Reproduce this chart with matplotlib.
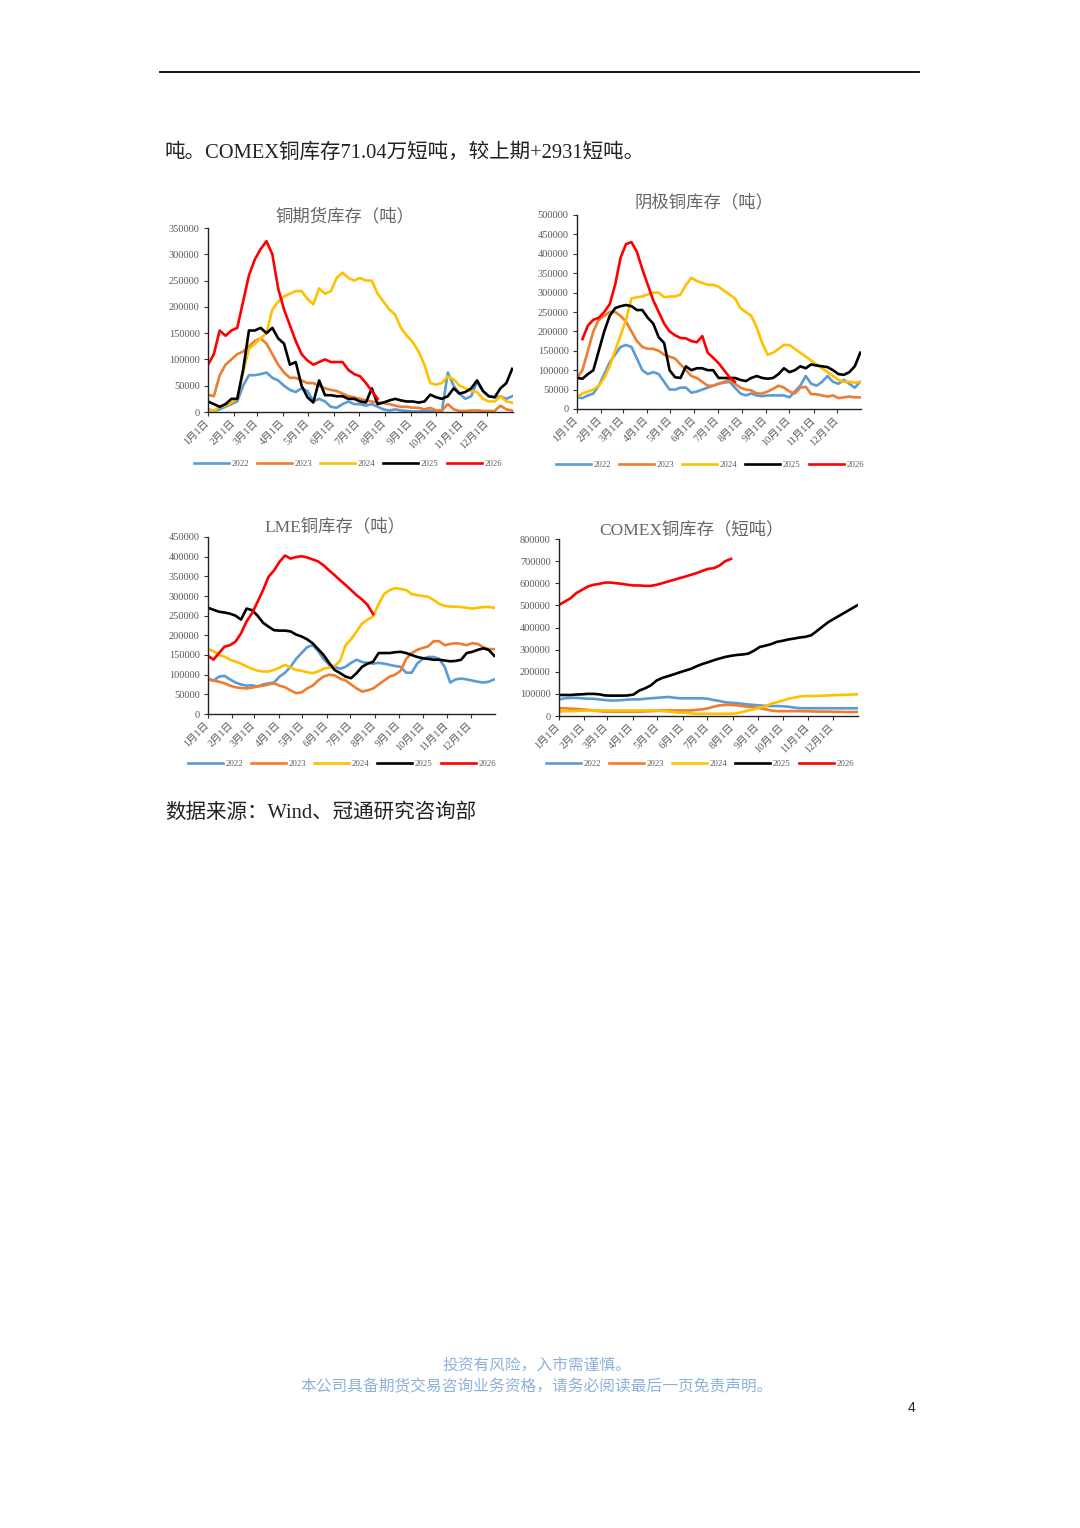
import numpy as np
import matplotlib
matplotlib.use('Agg')
import matplotlib.pyplot as plt
from matplotlib.lines import Line2D

plt.rcParams['font.family'] = ['Liberation Serif', 'Noto Sans CJK SC']

years = ['2022', '2023', '2024', '2025', '2026']
colors = ['#5B9BD5', '#ED7D31', '#FFC000', '#000000', '#FF0000']
month_days = [0, 31, 59, 90, 120, 151, 181, 212, 243, 273, 304, 334]
month_labels = ['1月1日', '2月1日', '3月1日', '4月1日', '5月1日', '6月1日',
                '7月1日', '8月1日', '9月1日', '10月1日', '11月1日', '12月1日']

# weekly readings (week 0 = 1月1日)
# 铜期货库存（吨）
fut_2022 = [5000, 2000, 5000, 10000, 15000, 20000, 50000, 70000, 70000, 72000,
            75000, 65000, 60000, 50000, 42000, 38000, 45000, 40000, 20000, 25000,
            20000, 10000, 8000, 15000, 20000, 15000, 15000, 12000, 15000, 10000,
            5000, 3000, 5000, 3000, 2000, 1000, 1000, 2000, 2000, 1000,
            2000, 75000, 50000, 35000, 25000, 30000, 58000, 40000, 30000, 28000,
            30000, 25000, 30000]
fut_2023 = [33000, 30000, 70000, 90000, 100000, 110000, 115000, 125000, 135000, 140000,
            130000, 110000, 90000, 75000, 65000, 65000, 60000, 55000, 55000, 50000,
            45000, 42000, 40000, 35000, 30000, 28000, 25000, 22000, 20000, 18000,
            17000, 15000, 12000, 10000, 10000, 8000, 8000, 5000, 8000, 3000,
            3000, 15000, 5000, 2000, 2000, 3000, 3000, 2000, 2000, 2000,
            12000, 5000, 3000]
fut_2024 = [5000, 2000, 10000, 12000, 18000, 25000, 75000, 120000, 130000, 140000,
            150000, 195000, 210000, 220000, 225000, 230000, 230000, 215000, 205000, 235000,
            225000, 230000, 255000, 265000, 255000, 250000, 255000, 250000, 250000, 225000,
            210000, 195000, 185000, 160000, 145000, 133000, 115000, 90000, 55000, 52000,
            55000, 68000, 62000, 50000, 45000, 40000, 38000, 25000, 20000, 20000,
            30000, 20000, 18000]
fut_2025 = [20000, 15000, 10000, 15000, 25000, 25000, 80000, 155000, 155000, 160000,
            150000, 160000, 140000, 130000, 90000, 95000, 50000, 28000, 18000, 60000,
            32000, 32000, 30000, 30000, 25000, 25000, 20000, 18000, 45000, 15000,
            18000, 22000, 25000, 22000, 20000, 20000, 18000, 20000, 33000, 28000,
            25000, 30000, 45000, 35000, 38000, 45000, 60000, 40000, 30000, 28000,
            45000, 55000, 82000]
fut_2026 = [90000, 110000, 155000, 145000, 155000, 160000, 210000, 260000, 290000, 310000,
            325000, 300000, 235000, 195000, 165000, 135000, 110000, 98000, 90000, 95000,
            100000, 95000, 95000, 95000, 80000, 72000, 68000, 55000, 40000, 25000]

# 阴极铜库存（吨）
cat_2022 = [30000, 28000, 35000, 40000, 60000, 90000, 120000, 140000, 160000, 165000,
            160000, 130000, 100000, 90000, 95000, 90000, 70000, 50000, 50000, 55000,
            55000, 42000, 45000, 50000, 55000, 60000, 65000, 68000, 70000, 55000,
            40000, 35000, 40000, 35000, 33000, 35000, 35000, 35000, 35000, 30000,
            45000, 60000, 85000, 65000, 60000, 70000, 85000, 70000, 65000, 75000,
            65000, 55000, 70000]
cat_2023 = [80000, 100000, 150000, 200000, 230000, 240000, 250000, 250000, 240000, 225000,
            200000, 175000, 160000, 155000, 155000, 150000, 140000, 135000, 130000, 115000,
            100000, 85000, 80000, 70000, 60000, 60000, 65000, 70000, 75000, 65000,
            55000, 50000, 48000, 40000, 40000, 45000, 52000, 60000, 55000, 45000,
            40000, 55000, 57000, 38000, 38000, 35000, 32000, 35000, 28000, 30000,
            32000, 30000, 30000]
cat_2024 = [30000, 40000, 45000, 50000, 60000, 80000, 110000, 150000, 190000, 230000,
            285000, 288000, 290000, 295000, 300000, 300000, 288000, 290000, 290000, 295000,
            320000, 338000, 330000, 325000, 320000, 320000, 315000, 305000, 295000, 285000,
            260000, 250000, 240000, 210000, 170000, 140000, 145000, 155000, 165000, 165000,
            155000, 145000, 135000, 125000, 115000, 105000, 95000, 85000, 75000, 70000,
            70000, 68000, 70000]
cat_2025 = [80000, 78000, 90000, 100000, 150000, 200000, 240000, 260000, 265000, 268000,
            265000, 255000, 255000, 235000, 220000, 185000, 170000, 100000, 82000, 80000,
            110000, 100000, 105000, 105000, 100000, 100000, 80000, 80000, 80000, 80000,
            75000, 72000, 80000, 85000, 80000, 78000, 80000, 90000, 105000, 95000,
            100000, 110000, 105000, 115000, 112000, 110000, 108000, 100000, 90000, 88000,
            95000, 110000, 145000]
cat_2026 = [180000, 215000, 230000, 235000, 250000, 270000, 320000, 390000, 425000,
            430000, 405000, 360000, 320000, 280000, 250000, 220000, 200000, 190000, 183000,
            182000, 175000, 172000, 188000, 145000, 132000, 118000, 100000, 82000, 70000]

# LME铜库存（吨）
lme_2022 = [90000, 85000, 95000, 97000, 88000, 80000, 75000, 72000, 73000, 70000,
            75000, 78000, 80000, 95000, 105000, 120000, 140000, 155000, 170000, 175000,
            160000, 140000, 125000, 120000, 115000, 120000, 130000, 138000, 132000, 130000,
            128000, 130000, 128000, 125000, 122000, 120000, 105000, 105000, 128000, 140000,
            145000, 145000, 140000, 120000, 80000, 88000, 90000, 88000, 85000, 82000,
            80000, 82000, 88000]
lme_2023 = [88000, 85000, 82000, 78000, 72000, 68000, 66000, 65000, 67000, 70000,
            72000, 75000, 78000, 72000, 68000, 60000, 53000, 55000, 65000, 72000,
            85000, 95000, 100000, 98000, 90000, 85000, 75000, 65000, 57000, 60000,
            65000, 75000, 85000, 95000, 100000, 110000, 140000, 155000, 163000, 168000,
            172000, 185000, 185000, 175000, 178000, 180000, 178000, 175000, 180000, 178000,
            170000, 165000, 165000]
lme_2024 = [165000, 160000, 150000, 146000, 138000, 133000, 128000, 121000, 115000, 110000,
            108000, 108000, 112000, 118000, 125000, 118000, 112000, 110000, 106000, 104000,
            108000, 115000, 118000, 122000, 135000, 175000, 190000, 210000, 230000, 240000,
            248000, 280000, 305000, 315000, 320000, 318000, 315000, 305000, 302000, 300000,
            298000, 290000, 280000, 275000, 273000, 273000, 272000, 270000, 268000, 270000,
            272000, 272000, 270000]
lme_2025 = [270000, 265000, 260000, 258000, 255000, 250000, 240000, 268000, 264000, 250000,
            232000, 222000, 213000, 212000, 212000, 210000, 202000, 197000, 190000, 180000,
            165000, 150000, 130000, 112000, 104000, 95000, 91000, 104000, 120000, 128000,
            133000, 155000, 155000, 155000, 157000, 158000, 155000, 150000, 145000, 142000,
            140000, 138000, 138000, 136000, 134000, 135000, 138000, 155000, 158000, 163000,
            167000, 163000, 148000]
lme_2026 = [148000, 138000, 155000, 171000, 175000, 184000, 205000, 235000, 256000, 285000,
            315000, 349000, 365000, 387000, 403000, 395000, 399000, 401000, 398000, 393000,
            388000, 378000, 365000, 353000, 340000, 328000, 315000, 302000, 291000, 277000,
            254000]

# COMEX铜库存（短吨）
cmx_2022 = [75000, 80000, 82000, 82000, 80000, 78000, 78000, 75000, 72000, 70000,
            70000, 72000, 74000, 75000, 75000, 78000, 80000, 82000, 84000, 86000,
            83000, 80000, 80000, 80000, 80000, 80000, 78000, 72000, 68000, 62000,
            60000, 58000, 55000, 52000, 50000, 48000, 46000, 45000, 45000, 44000,
            42000, 38000, 35000, 35000, 35000, 35000, 35000, 35000, 35000, 35000,
            35000, 35000, 35000]
cmx_2023 = [35000, 35000, 33000, 32000, 30000, 28000, 25000, 22000, 20000, 20000,
            20000, 20000, 20000, 20000, 20000, 21000, 22000, 23000, 25000, 25000,
            25000, 25000, 25000, 25000, 28000, 30000, 35000, 42000, 48000, 50000,
            50000, 48000, 45000, 42000, 40000, 35000, 30000, 25000, 22000, 22000,
            22000, 22000, 22000, 21000, 21000, 20000, 20000, 20000, 19000, 19000,
            18000, 18000, 18000]
cmx_2024 = [20000, 22000, 22000, 23000, 24000, 25000, 25000, 25000, 25000, 25000,
            25000, 25000, 25000, 25000, 25000, 25000, 25000, 25000, 22000, 20000,
            18000, 15000, 15000, 12000, 10000, 10000, 10000, 10000, 10000, 10000,
            10000, 12000, 18000, 25000, 30000, 38000, 44000, 56000, 62000, 70000,
            78000, 83000, 88000, 90000, 90000, 91000, 92000, 93000, 94000, 95000,
            96000, 97000, 98000]
cmx_2025 = [95000, 95000, 95000, 97000, 98000, 100000, 100000, 98000, 93000, 92000,
            92000, 92000, 93000, 97000, 115000, 125000, 138000, 160000, 172000, 180000,
            188000, 197000, 205000, 213000, 225000, 235000, 243000, 252000, 260000, 267000,
            272000, 276000, 278000, 282000, 295000, 312000, 318000, 325000, 335000, 340000,
            346000, 350000, 355000, 358000, 365000, 385000, 405000, 425000, 440000, 455000,
            470000, 485000, 500000]
cmx_2026 = [502000, 517000, 532000, 555000, 570000, 585000, 593000, 597000, 603000, 603000,
            600000, 597000, 593000, 590000, 590000, 588000, 588000, 593000, 600000, 608000,
            615000, 623000, 630000, 638000, 646000, 656000, 665000, 668000, 680000, 700000,
            710000]

W, H = 1080, 1528
grey = '#595959'
fig = plt.figure(figsize=(W / 100, H / 100), dpi=100)


def px_axes(left, top, right, bottom):
    return fig.add_axes([left / W, 1 - bottom / H, (right - left) / W, (bottom - top) / H])


def draw_chart(box, title, title_xy, series, starts, ymax, ystep, legend_xy):
    ax = px_axes(*box)
    for vals, start, year, color in zip(series, starts, years, colors):
        days = (np.arange(len(vals)) + start) * 7
        ax.plot(days, vals, color=color, lw=1.9, label=year, solid_joinstyle='round')
    ax.set_xlim(0, 365)
    ax.set_ylim(0, ymax)
    yt = np.arange(0, ymax + 1, ystep)
    ax.set_yticks(yt)
    ax.set_yticklabels([str(int(v)) for v in yt])
    ax.set_xticks(month_days)
    ax.set_xticklabels(month_labels, rotation=45, ha='right', va='center', rotation_mode='anchor')
    ax.tick_params(axis='both', labelsize=7.5, labelcolor=grey, length=3, width=0.8,
                   direction='out', color='#333333')
    ax.tick_params(axis='x', pad=4)
    ax.tick_params(axis='y', pad=3)
    for side in ['top', 'right']:
        ax.spines[side].set_visible(False)
    for side in ['left', 'bottom']:
        ax.spines[side].set_color('#222222')
        ax.spines[side].set_linewidth(1.0)
    ax.patch.set_alpha(0)
    fig.text(title_xy[0] / W, 1 - title_xy[1] / H, title, ha='center', va='center',
             fontsize=12.5, color='#666666')
    leg = ax.legend(loc='center', bbox_to_anchor=(legend_xy[0] / W, 1 - legend_xy[1] / H),
                    bbox_transform=fig.transFigure, ncol=5, frameon=False, fontsize=6.3,
                    handlelength=4.0, handletextpad=0.3, columnspacing=0.9)
    for t in leg.get_texts():
        t.set_color(grey)
    return ax


draw_chart((208, 228, 513, 412), '铜期货库存（吨）', (345, 217),
           [fut_2022, fut_2023, fut_2024, fut_2025, fut_2026], [0, 0, 0, 0, 0],
           350000, 50000, (348, 464))
draw_chart((577, 215, 861, 409), '阴极铜库存（吨）', (704, 203),
           [cat_2022, cat_2023, cat_2024, cat_2025, cat_2026], [0, 0, 0, 0, 1],
           500000, 50000, (710, 465))
draw_chart((208, 537, 495, 714), 'LME铜库存（吨）', (335, 527),
           [lme_2022, lme_2023, lme_2024, lme_2025, lme_2026], [0, 0, 0, 0, 0],
           450000, 50000, (342, 764))
draw_chart((559, 539, 858, 716), 'COMEX铜库存（短吨）', (692, 530),
           [cmx_2022, cmx_2023, cmx_2024, cmx_2025, cmx_2026], [0, 0, 0, 0, 0],
           800000, 100000, (700, 764))

# page furniture
fig.add_artist(Line2D([160 / W, 919 / W], [1 - 72 / H, 1 - 72 / H], color='black', lw=1.3))
fig.text(165 / W, 1 - 153 / H, '吨。COMEX铜库存71.04万短吨，较上期+2931短吨。',
         ha='left', va='center', fontsize=14.8, color='#222222')
fig.text(165 / W, 1 - 813 / H, '数据来源：Wind、冠通研究咨询部',
         ha='left', va='center', fontsize=14.8, color='#222222')
fig.text(537 / W, 1 - 1365 / H, '投资有风险，入市需谨慎。', ha='center', va='center',
         fontsize=11.3, color='#8EB1DA', family=['Noto Sans CJK SC'])
fig.text(537 / W, 1 - 1387 / H, '本公司具备期货交易咨询业务资格，请务必阅读最后一页免责声明。',
         ha='center', va='center', fontsize=11.3, color='#8EB1DA', family=['Noto Sans CJK SC'])
fig.text(912 / W, 1 - 1408 / H, '4', ha='center', va='center', fontsize=10,
         color='#222222', family=['Liberation Sans'])

fig.savefig('out.png', dpi=100, facecolor='white')
